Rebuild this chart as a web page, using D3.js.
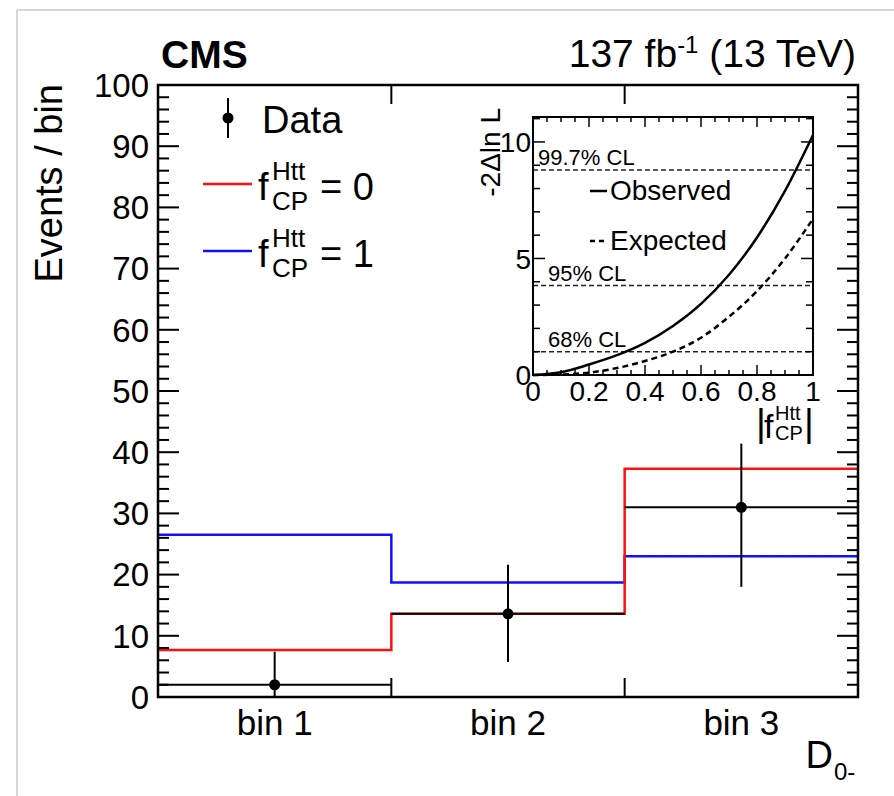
<!DOCTYPE html>
<html>
<head>
<meta charset="utf-8">
<script src="https://cdn.jsdelivr.net/npm/d3@7"></script>
<style>
  body { margin: 0; background: #fff; }
  svg text { font-family: "Liberation Sans", Arial, Helvetica, sans-serif; fill: #000; }
</style>
</head>
<body>
<svg id="chart" width="894" height="796"></svg>
<script>
// main histogram values (events per bin)
var bins = ["bin 1", "bin 2", "bin 3"];
var fcp0 = [7.7, 13.6, 37.3];
var fcp1 = [26.5, 18.7, 23.0];
var dataVal = [2.0, 13.6, 31.0];
var dataHi = [7.4, 21.6, 41.4];
var dataLo = [0.0, 5.7, 18.0];
var yTicks = [0, 10, 20, 30, 40, 50, 60, 70, 80, 90, 100];

// inset likelihood scan
var scanX = [0, 0.1, 0.2, 0.3, 0.4, 0.5, 0.6, 0.7, 0.8, 0.9, 1.0];
var observed = [0, 0.12, 0.45, 0.85, 1.38, 2.1, 3.05, 4.3, 5.9, 7.9, 10.3];
var expected = [0, 0.02, 0.1, 0.3, 0.6, 1.0, 1.6, 2.5, 3.6, 5.0, 6.7];
var clLevels = [1.0, 3.84, 8.8];
var clLabels = ["68% CL", "95% CL", "99.7% CL"];
var insetXTicks = [0, 0.2, 0.4, 0.6, 0.8, 1];
var insetYTicks = [0, 5, 10];

var svg = d3.select("#chart");

// page frame
svg.append("line").attr("x1", 17).attr("y1", 10).attr("x2", 894).attr("y2", 10)
    .attr("stroke", "#c8c8c8").attr("stroke-width", 1.5);
svg.append("line").attr("x1", 17).attr("y1", 10).attr("x2", 17).attr("y2", 796)
    .attr("stroke", "#c8c8c8").attr("stroke-width", 1.5);

var L = 158, R = 858, T = 85, B = 697;
var x = d3.scaleLinear().domain([0, 3]).range([L, R]);
var y = d3.scaleLinear().domain([0, 100]).range([B, T]);

function stepLine(vals) {
    var pts = vals.map(function (v, i) { return [i, v]; });
    pts.push([vals.length, vals[vals.length - 1]]);
    return d3.line().x(function (d) { return x(d[0]); })
        .y(function (d) { return y(d[1]); })
        .curve(d3.curveStepAfter)(pts);
}

svg.append("path").attr("d", stepLine(fcp1)).attr("fill", "none")
    .attr("stroke", "#1010ff").attr("stroke-width", 2.5);
svg.append("path").attr("d", stepLine(fcp0)).attr("fill", "none")
    .attr("stroke", "#ff1010").attr("stroke-width", 2.5);

// data points with error bars
var pts = svg.append("g");
bins.forEach(function (b, i) {
    var cx = x(i + 0.5);
    pts.append("line").attr("x1", x(i)).attr("x2", x(i + 1))
        .attr("y1", y(dataVal[i])).attr("y2", y(dataVal[i]))
        .attr("stroke", "#000").attr("stroke-width", 2);
    pts.append("line").attr("x1", cx).attr("x2", cx)
        .attr("y1", y(dataHi[i])).attr("y2", y(dataLo[i]))
        .attr("stroke", "#000").attr("stroke-width", 2);
    pts.append("circle").attr("cx", cx).attr("cy", y(dataVal[i])).attr("r", 5.5)
        .attr("fill", "#000");
});

// axes frame and ticks
var ax = svg.append("g").attr("stroke", "#000");
d3.range(0, 101, 2).forEach(function (v) {
    var len = (v % 10 === 0) ? 21 : 11;
    ax.append("line").attr("x1", L).attr("x2", L + len).attr("y1", y(v)).attr("y2", y(v))
        .attr("stroke-width", 2);
    ax.append("line").attr("x1", R).attr("x2", R - len).attr("y1", y(v)).attr("y2", y(v))
        .attr("stroke-width", 2);
});
[1, 2].forEach(function (v) {
    ax.append("line").attr("x1", x(v)).attr("x2", x(v)).attr("y1", B).attr("y2", B - 19)
        .attr("stroke-width", 2);
    ax.append("line").attr("x1", x(v)).attr("x2", x(v)).attr("y1", T).attr("y2", T + 19)
        .attr("stroke-width", 2);
});
svg.append("rect").attr("x", L).attr("y", T).attr("width", R - L).attr("height", B - T)
    .attr("fill", "none").attr("stroke", "#000").attr("stroke-width", 2.5);

svg.selectAll(".ylab").data(yTicks).enter().append("text")
    .attr("class", "ylab")
    .attr("x", 149).attr("y", function (d) { return y(d); })
    .attr("dy", "0.36em").attr("text-anchor", "end")
    .style("font-size", "33px").text(function (d) { return d; });

svg.selectAll(".xlab").data(bins).enter().append("text")
    .attr("class", "xlab")
    .attr("x", function (d, i) { return x(i + 0.5); }).attr("y", 735)
    .attr("text-anchor", "middle").style("font-size", "35px").text(function (d) { return d; });

svg.append("text").attr("transform", "translate(62,84) rotate(-90)")
    .attr("text-anchor", "end").style("font-size", "38px").text("Events / bin");

svg.append("text").attr("x", 833).attr("y", 768).attr("text-anchor", "end")
    .style("font-size", "38px").text("D");
svg.append("text").attr("x", 834).attr("y", 780).style("font-size", "24px").text("0-");

// header
svg.append("text").attr("x", 161).attr("y", 68).style("font-size", "39px")
    .style("font-weight", "bold").text("CMS");
var lumi = svg.append("text").attr("x", 856).attr("y", 67).attr("text-anchor", "end")
    .style("font-size", "39px");
lumi.append("tspan").text("137 fb");
lumi.append("tspan").attr("dy", -14).style("font-size", "24px").text("-1");
lumi.append("tspan").attr("dy", 14).text(" (13 TeV)");

// legend
var lg = svg.append("g");
lg.append("line").attr("x1", 228).attr("x2", 228).attr("y1", 98).attr("y2", 138)
    .attr("stroke", "#000").attr("stroke-width", 2);
lg.append("circle").attr("cx", 228).attr("cy", 118).attr("r", 5.5).attr("fill", "#000");
lg.append("text").attr("x", 262).attr("y", 133).style("font-size", "38px").text("Data");

var legItems = [{c: "#ff1010", v: "0", y: 184}, {c: "#1010ff", v: "1", y: 251}];
legItems.forEach(function (d) {
    lg.append("line").attr("x1", 203).attr("x2", 252).attr("y1", d.y).attr("y2", d.y)
        .attr("stroke", d.c).attr("stroke-width", 2.5);
    var base = d.y + 16;
    lg.append("text").attr("x", 258).attr("y", base).style("font-size", "38px").text("f");
    lg.append("text").attr("x", 272).attr("y", base - 20).style("font-size", "26px").text("Htt");
    lg.append("text").attr("x", 272).attr("y", base + 10).style("font-size", "26px").text("CP");
    lg.append("text").attr("x", 320).attr("y", base).style("font-size", "38px").text("= " + d.v);
});

// inset
var iL = 533, iR = 813, iT = 117, iB = 375;
var ix = d3.scaleLinear().domain([0, 1]).range([iL, iR]);
var iy = d3.scaleLinear().domain([0, 11.07]).range([iB, iT]);
var ins = svg.append("g");

clLevels.forEach(function (v, i) {
    ins.append("line").attr("x1", iL).attr("x2", iR).attr("y1", iy(v)).attr("y2", iy(v))
        .attr("stroke", "#222").attr("stroke-width", 1.5).attr("stroke-dasharray", "5,3");
    ins.append("text").attr("x", i === 2 ? 538 : 548).attr("y", iy(v) - 5)
        .style("font-size", "22px").text(clLabels[i]);
});

var curve = d3.line().x(function (d, i) { return ix(scanX[i]); })
    .y(function (d) { return iy(d); }).curve(d3.curveMonotoneX);
ins.append("path").attr("d", curve(expected)).attr("fill", "none")
    .attr("stroke", "#000").attr("stroke-width", 2.5).attr("stroke-dasharray", "6,4");
ins.append("path").attr("d", curve(observed)).attr("fill", "none")
    .attr("stroke", "#000").attr("stroke-width", 2.5);

var it = ins.append("g").attr("stroke", "#000").attr("stroke-width", 1.5);
d3.range(0, 1.0001, 0.05).forEach(function (v) {
    var major = Math.abs(v * 5 - Math.round(v * 5)) < 1e-6;
    var len = major ? 10 : 5;
    it.append("line").attr("x1", ix(v)).attr("x2", ix(v)).attr("y1", iB).attr("y2", iB - len);
    it.append("line").attr("x1", ix(v)).attr("x2", ix(v)).attr("y1", iT).attr("y2", iT + len);
});
d3.range(0, 12, 1).forEach(function (v) {
    var len = (v % 5 === 0) ? 12 : 7;
    it.append("line").attr("x1", iL).attr("x2", iL + len).attr("y1", iy(v)).attr("y2", iy(v));
    it.append("line").attr("x1", iR).attr("x2", iR - len).attr("y1", iy(v)).attr("y2", iy(v));
});
ins.append("rect").attr("x", iL).attr("y", iT).attr("width", iR - iL).attr("height", iB - iT)
    .attr("fill", "none").attr("stroke", "#000").attr("stroke-width", 2);

ins.selectAll(".ixl").data(insetXTicks).enter().append("text").attr("class", "ixl")
    .attr("x", function (d) { return ix(d); }).attr("y", 401)
    .attr("text-anchor", "middle").style("font-size", "28px").text(function (d) { return d; });
ins.selectAll(".iyl").data(insetYTicks).enter().append("text").attr("class", "iyl")
    .attr("x", 531).attr("y", function (d) { return iy(d); }).attr("dy", "0.36em")
    .attr("text-anchor", "end").style("font-size", "28px").text(function (d) { return d; });

ins.append("text").attr("transform", "translate(500,108) rotate(-90)")
    .attr("text-anchor", "end").style("font-size", "28px").text("-2\u0394ln L");

ins.append("text").attr("x", 756).attr("y", 436).style("font-size", "38px").text("|");
ins.append("text").attr("x", 764).attr("y", 438).style("font-size", "34px").text("f");
ins.append("text").attr("x", 775).attr("y", 420).style("font-size", "20px").text("Htt");
ins.append("text").attr("x", 775).attr("y", 440).style("font-size", "20px").text("CP");
ins.append("text").attr("x", 804).attr("y", 436).style("font-size", "38px").text("|");

// inset legend
ins.append("line").attr("x1", 590).attr("x2", 607).attr("y1", 191).attr("y2", 191)
    .attr("stroke", "#000").attr("stroke-width", 2.5);
ins.append("text").attr("x", 610).attr("y", 200).style("font-size", "28px").text("Observed");
ins.append("line").attr("x1", 590).attr("x2", 607).attr("y1", 241).attr("y2", 241)
    .attr("stroke", "#000").attr("stroke-width", 2.5).attr("stroke-dasharray", "5,4");
ins.append("text").attr("x", 610).attr("y", 250).style("font-size", "28px").text("Expected");
</script>
</body>
</html>
